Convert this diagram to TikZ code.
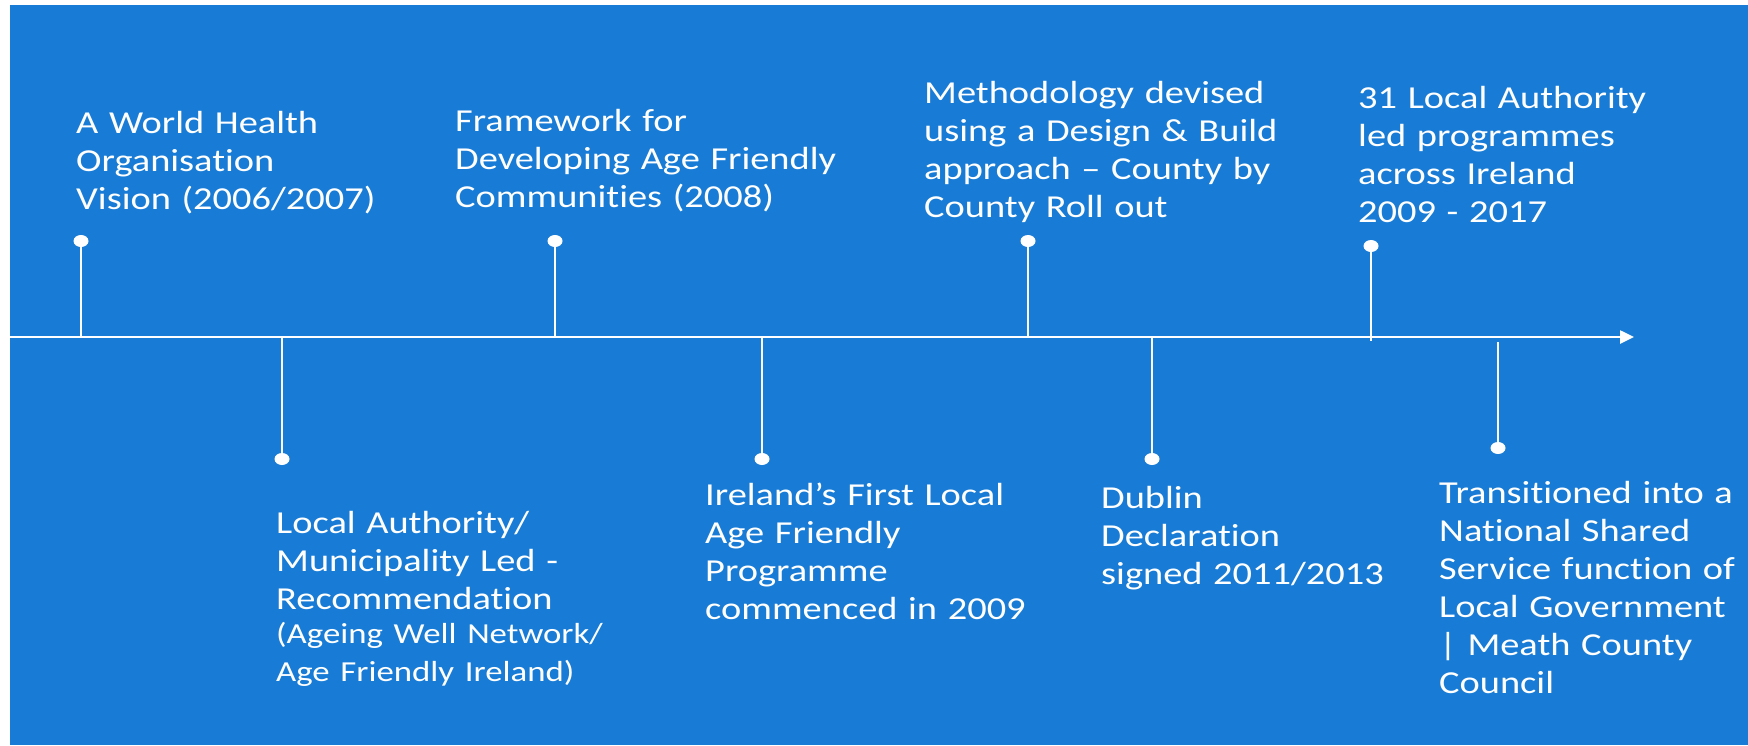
\documentclass[tikz,border=0pt]{standalone}
\usepackage{fontspec}
\setmainfont{Carlito}[FakeStretch=1.2,Ligatures={NoCommon,TeX}]
\usetikzlibrary{arrows.meta,shapes.geometric}
\definecolor{bgblue}{RGB}{24,124,214}
\begin{document}
\begin{tikzpicture}[x=1pt,y=-1pt,
		dot/.style={ellipse,fill=white,inner sep=0pt,minimum width=15pt,minimum height=12pt},
		stem/.style={white,line width=2pt},
		txt/.style={text=white,anchor=base west,inner sep=0pt,text width=400pt,align=left,font=\fontsize{32}{38}\selectfont}]
		\useasboundingbox (0,0) rectangle (1748,745);
		\fill[bgblue] (9.5,5) rectangle (1748,745);
		
		\coordinate (tl0) at (9.5,337);
		\coordinate (tl1) at (1634,337);
		\draw[white,line width=2.5pt,-{Triangle[length=14pt,width=13pt]}] (tl0) -- (tl1);
		
		\foreach \n/\x/\y in {u1/81/241, u2/555/241, u3/1028/241, d1/282/459, d2/762/459, d3/1152/459}{
			\node[dot] (\n) at (\x,\y) {};
			\draw[stem] (\n) -- (\n |- tl0);
		}
		\node[dot] (u4) at (1371,246) {};
		\coordinate (u4end) at (1371,341);
		\draw[stem] (u4) -- (u4end);
		\node[dot] (d4) at (1498,448) {};
		\coordinate (d4end) at (1498,342);
		\draw[stem] (d4) -- (d4end);
		
		\node[txt] (who) at (76,133) {A World Health\\Organisation\\Vision (2006/2007)};
		\node[txt] (frame) at (455,131) {Framework for\\Developing Age Friendly\\Communities (2008)};
		\node[txt] (method) at (924,103) {Methodology devised\\using a Design \& Build\\approach – County by\\County Roll out};
		\node[txt] (progs) at (1358,108) {31 Local Authority\\led programmes\\across Ireland\\2009 - 2017};
		
		\node[txt] (recom) at (276,533) {Local Authority/\\Municipality Led -\\Recommendation\par
			\fontsize{29}{34}\selectfont (Ageing Well Network/\\Age Friendly Ireland)};
		\node[txt] (first) at (705,505) {Ireland’s First Local\\Age Friendly\\Programme\\commenced in 2009};
		\node[txt] (dublin) at (1101,508) {Dublin\\Declaration\\signed 2011/2013};
		\node[txt] (shared) at (1439,503) {Transitioned into a\\National Shared\\Service function of\\Local Government\\| Meath County\\Council};
	\end{tikzpicture}
\end{document}
